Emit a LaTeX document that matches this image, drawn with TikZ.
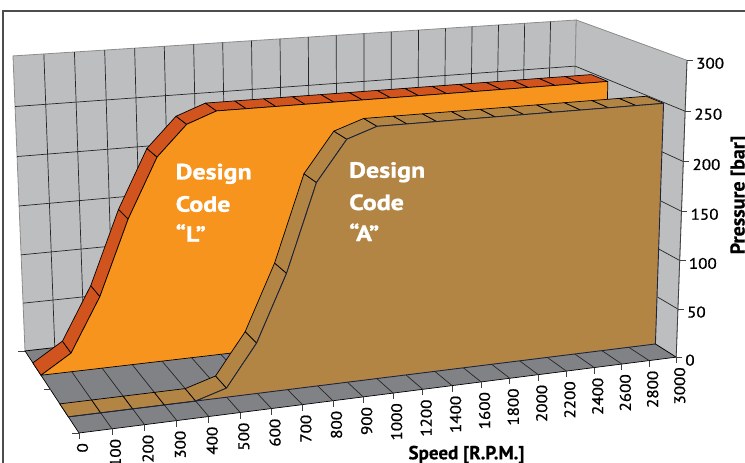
\documentclass[tikz,border=0pt]{standalone}
\usepackage{fontspec}
\setmainfont{PT Sans}
\newfontfamily\desfont{PT Sans}[FakeStretch=1.18,FakeBold=1.2]
\newfontfamily\tickfont{PT Sans}[FakeStretch=1.1,FakeBold=0.8]
\newfontfamily\titlefont{PT Sans}[FakeBold=0.5]
\usetikzlibrary{calc}
\definecolor{wallgray}{HTML}{BCBEC0}
\definecolor{floorgray}{HTML}{808285}
\definecolor{Lfront}{HTML}{F7941D}
\definecolor{Ltop}{HTML}{D1541F}
\definecolor{Afront}{HTML}{B38544}
\definecolor{Atop}{HTML}{B38544}
\definecolor{navy}{HTML}{1B2440}
\definecolor{edgegray}{HTML}{8C8C8C}
\definecolor{framecol}{HTML}{4D4D4D}
\makeatletter
\pgfkeys{/pp/.cd,s/.store in=\pp@S,p/.store in=\pp@P,d/.store in=\pp@D}
\tikzdeclarecoordinatesystem{pp}{%
  \pgfkeys{/pp/.cd,s=0,p=0,d=0,#1}%
  \pgfmathparse{\pp@S}\let\pp@s\pgfmathresult
  \pgfmathparse{\pp@P}\let\pp@p\pgfmathresult
  \pgfmathparse{\pp@D}\let\pp@d\pgfmathresult
  \edef\pp@a{\fpeval{0.1099*\pp@s/20}}%
  \edef\pp@c{\fpeval{-0.0377*\pp@p/300}}%
  \edef\pp@b{\fpeval{0.1174*\pp@d}}%
  \edef\pp@w{\fpeval{1+\pp@a+\pp@b+\pp@c}}%
  \pgf@x=\fpeval{(\pp@a*6110+\pp@c*369-\pp@b*435+79)/\pp@w}pt\relax
  \pgf@y=\fpeval{(-\pp@a*333+\pp@c*8800-\pp@b*348+433)/(-\pp@w)}pt\relax
}
\makeatother
\def\Ldat{{0,19,73,148,207,237,248,248,248,248,248,248,248,248,248,248,248,248,248,248,248}}
\def\Adat{{0,0,0,0,0,9,50,115,200,239,249,249,249,249,249,249,249,249,249,249,249}}
\def\dLf{0.68}\def\dLb{0.84}
\def\dAf{0.18}\def\dAb{0.33}
\tikzset{
  wall/.style={fill=wallgray,draw=edgegray,line width=0.8pt},
  floorface/.style={fill=floorgray,draw=black,line width=0.7pt},
  gridline/.style={draw=black!85,line width=0.7pt},
  axisline/.style={draw=black!75,line width=0.8pt},
  Lstrip/.style={fill=Ltop,draw=black,line width=0.7pt,line join=round},
  Lface/.style={fill=Lfront,draw=black,line width=0.7pt,line join=round},
  Astrip/.style={fill=Atop,draw=black,line width=0.7pt,line join=round},
  Aface/.style={fill=Afront,draw=navy,line width=0.9pt,line join=round},
  destext/.style={font=\desfont\bfseries\fontsize{22}{26}\selectfont,text=white,inner sep=0pt,anchor=base west},
  ticklab/.style={font=\tickfont\fontsize{15.5}{18}\selectfont,inner sep=0pt},
  axtitle/.style={font=\titlefont\bfseries\fontsize{19}{22}\selectfont,inner sep=0pt},
}
\begin{document}
\begin{tikzpicture}[x=1pt,y=-1pt]
\useasboundingbox (0,0) rectangle (745,463);
% outer frame
\draw[framecol,line width=1.4pt] (3,11) rectangle (770,490);
% back wall
\filldraw[wall] (pp cs:s=0,p=0,d=1) -- (pp cs:s=20,p=0,d=1) -- (pp cs:s=20,p=300,d=1) -- (pp cs:s=0,p=300,d=1) -- cycle;
\foreach \v in {50,100,...,250} \draw[gridline] (pp cs:s=0,p=\v,d=1) -- (pp cs:s=20,p=\v,d=1);
\foreach \i in {1,...,19} \draw[gridline] (pp cs:s=\i,p=0,d=1) -- (pp cs:s=\i,p=300,d=1);
% right wall
\filldraw[wall] (pp cs:s=20,p=0,d=1) -- (pp cs:s=20,p=0,d=0) -- (pp cs:s=20,p=300,d=0) -- (pp cs:s=20,p=300,d=1) -- cycle;
\foreach \v in {50,100,...,250} \draw[gridline] (pp cs:s=20,p=\v,d=1) -- (pp cs:s=20,p=\v,d=0);
% floor
\filldraw[floorface] (pp cs:s=0,d=0) -- (pp cs:s=20,d=0) -- (pp cs:s=20,d=1) -- (pp cs:s=0,d=1) -- cycle;
\foreach \i in {1,...,19} \draw[gridline] (pp cs:s=\i,d=0) -- (pp cs:s=\i,d=1);
% pressure axis line
\draw[axisline] (pp cs:s=20,d=0) -- (pp cs:s=20,p=300,d=0);
% series L
\foreach \i in {0,...,19}{
  \filldraw[Lstrip] (pp cs:s=\i,p={\Ldat[\i]},d=\dLf) -- (pp cs:s=\i+1,p={\Ldat[\i+1]},d=\dLf)
     -- (pp cs:s=\i+1,p={\Ldat[\i+1]},d=\dLb) -- (pp cs:s=\i,p={\Ldat[\i]},d=\dLb) -- cycle;
}
\filldraw[Lface] (pp cs:s=0,p=0,d=\dLf) foreach \i in {0,...,20}{ -- (pp cs:s=\i,p={\Ldat[\i]},d=\dLf)} -- (pp cs:s=20,p=0,d=\dLf) -- cycle;
% series A
\foreach \i in {0,...,19}{
  \filldraw[Astrip] (pp cs:s=\i,p={\Adat[\i]},d=\dAf) -- (pp cs:s=\i+1,p={\Adat[\i+1]},d=\dAf)
     -- (pp cs:s=\i+1,p={\Adat[\i+1]},d=\dAb) -- (pp cs:s=\i,p={\Adat[\i]},d=\dAb) -- cycle;
}
\filldraw[Aface] (pp cs:s=0,p=0,d=\dAf) foreach \i in {0,...,20}{ -- (pp cs:s=\i,p={\Adat[\i]},d=\dAf)} -- (pp cs:s=20,p=0,d=\dAf) -- cycle;
% depth ticks
\foreach \dd in {0,0.5,1} \draw[axisline] (pp cs:s=0,d=\dd) -- ++(-7,0);
% speed ticks and labels
\foreach \lab [count=\i from 0] in {0,100,200,300,400,500,600,700,800,900,1000,1200,1400,1600,1800,2000,2200,2400,2600,2800,3000}{
  \draw[axisline] (pp cs:s=\i,d=0) -- ++(0,6);
  \node[ticklab,rotate=90,anchor=east] (sl\i) at ($(pp cs:s=\i,d=0)+(3.5,10)$) {\lab};
}
% pressure ticks and labels
\foreach \v in {0,50,...,300}{
  \draw[axisline] (pp cs:s=20,p=\v,d=0) -- ++(6,0);
  \node[ticklab,anchor=west] (pl\v) at ($(pp cs:s=20,p=\v,d=0)+(9,3)$) {\v};
}
% axis titles
\node[axtitle,anchor=base] (speedtitle) at (466.5,459.3) {Speed [R.P.M.]};
\node[axtitle,font=\titlefont\bfseries\fontsize{20}{24}\selectfont,rotate=90,anchor=base] (prestitle) at (744.5,195) {Pressure [bar]};
% series texts
\node[destext] (dL1) at (175.5,179.3) {Design};
\node[destext] (dL2) at (175.5,211.7) {Code};
\node[destext] (dL3) at (175.5,241.7) {“L”};
\node[destext] (dA1) at (349,177.7) {Design};
\node[destext] (dA2) at (349,210) {Code};
\node[destext] (dA3) at (349,241) {“A”};
\end{tikzpicture}
\end{document}
